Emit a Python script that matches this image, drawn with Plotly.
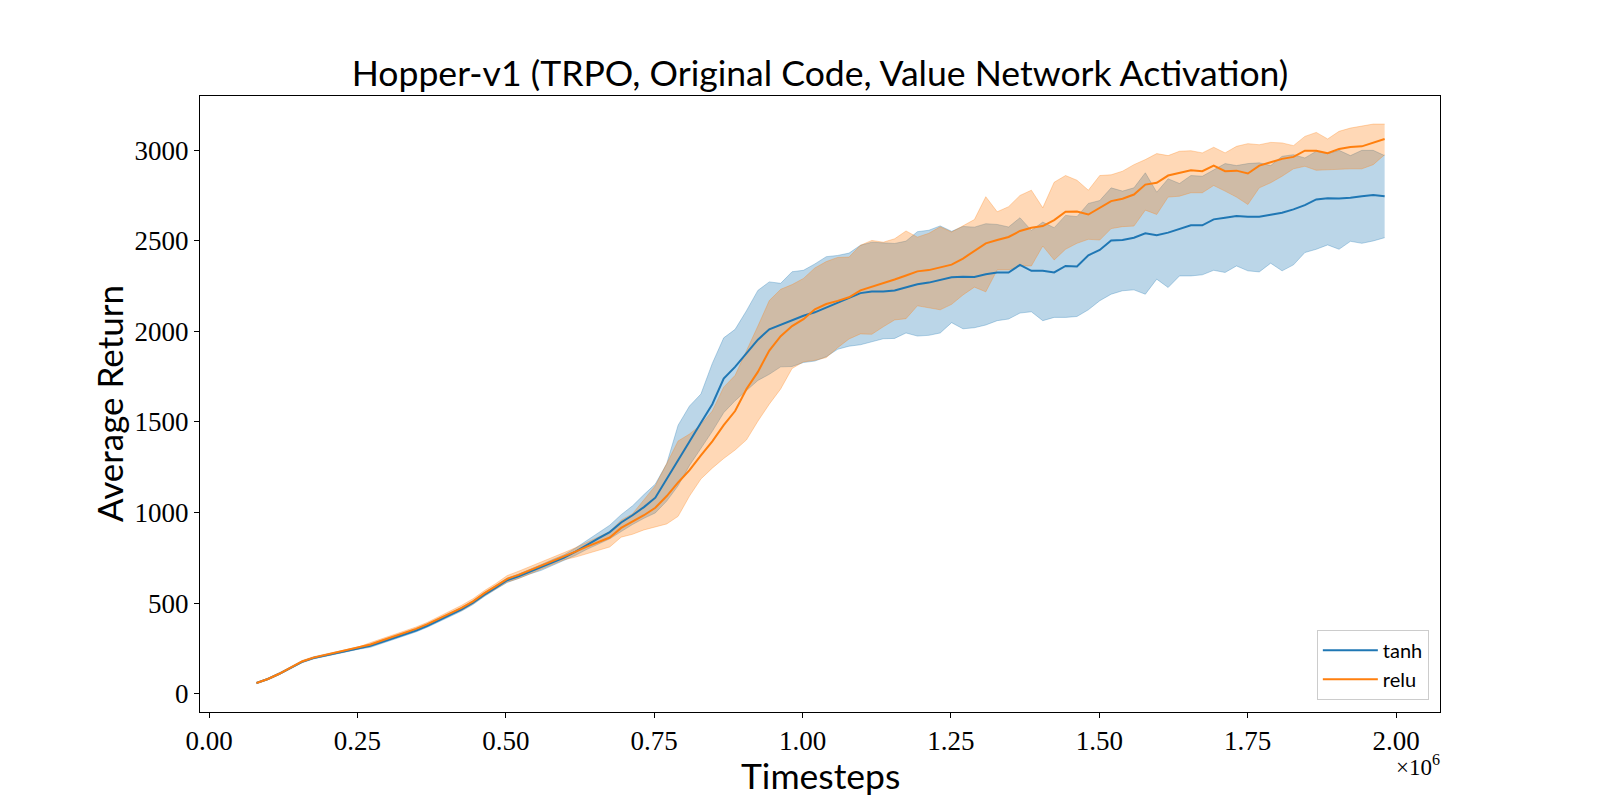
import plotly.graph_objects as go

# Hopper-v1 TRPO runs: mean curve and shaded band per value-network activation
timesteps = [
    80000, 99200, 118400, 137600, 156800, 176000, 195200, 214400, 233600, 252800,
    272000, 291200, 310400, 329600, 348800, 368000, 387200, 406400, 425600, 444800,
    464000, 483200, 502400, 521600, 540800, 560000, 579200, 598400, 617600, 636800,
    656000, 675200, 694400, 713600, 732800, 752000, 771200, 790400, 809600, 828800,
    848000, 867200, 886400, 905600, 924800, 944000, 963200, 982400, 1001600, 1020800,
    1040000, 1059200, 1078400, 1097600, 1116800, 1136000, 1155200, 1174400, 1193600, 1212800,
    1232000, 1251200, 1270400, 1289600, 1308800, 1328000, 1347200, 1366400, 1385600, 1404800,
    1424000, 1443200, 1462400, 1481600, 1500800, 1520000, 1539200, 1558400, 1577600, 1596800,
    1616000, 1635200, 1654400, 1673600, 1692800, 1712000, 1731200, 1750400, 1769600, 1788800,
    1808000, 1827200, 1846400, 1865600, 1884800, 1904000, 1923200, 1942400, 1961600, 1980800,
]

tanh_mean = [
    59, 81, 110, 143, 176, 197, 211, 225, 240, 251,
    264, 285, 305, 325, 349, 375, 405, 435, 466, 502,
    547, 586, 626, 648, 673, 697, 725, 751, 784, 822,
    857, 892, 945, 985, 1030, 1082, 1187, 1288, 1395, 1495,
    1598, 1739, 1804, 1876, 1954, 2011, 2037, 2063, 2086, 2105,
    2132, 2160, 2183, 2211, 2220, 2220, 2226, 2245, 2260, 2269,
    2284, 2299, 2301, 2300, 2315, 2325, 2325, 2367, 2334, 2334,
    2325, 2361, 2358, 2420, 2449, 2502, 2504, 2517, 2541, 2530,
    2545, 2567, 2585, 2585, 2618, 2627, 2636, 2633, 2633, 2644,
    2655, 2673, 2697, 2728, 2735, 2733, 2737, 2746, 2752, 2746,
]
tanh_upper = [
    62, 85, 115, 148, 181, 202, 216, 230, 245, 256,
    272, 293, 313, 333, 357, 383, 413, 443, 476, 512,
    557, 596, 638, 660, 685, 713, 741, 767, 804, 847,
    887, 930, 988, 1037, 1099, 1157, 1270, 1482, 1588, 1654,
    1823, 1964, 2011, 2114, 2226, 2273, 2265, 2329, 2337, 2372,
    2412, 2419, 2432, 2475, 2492, 2487, 2485, 2498, 2550, 2558,
    2582, 2552, 2579, 2575, 2594, 2590, 2576, 2627, 2557, 2603,
    2572, 2640, 2633, 2706, 2722, 2792, 2774, 2792, 2875, 2768,
    2842, 2816, 2860, 2856, 2893, 2926, 2915, 2926, 2930, 2915,
    2966, 2975, 2957, 2994, 2981, 2999, 2970, 2999, 2999, 2970,
]
tanh_lower = [
    56, 77, 105, 138, 171, 192, 206, 220, 235, 246,
    256, 277, 297, 317, 341, 367, 397, 427, 456, 492,
    537, 576, 614, 636, 661, 681, 709, 735, 764, 797,
    827, 855, 895, 934, 968, 998, 1063, 1148, 1260, 1354,
    1448, 1551, 1617, 1673, 1729, 1763, 1804, 1806, 1828, 1836,
    1860, 1901, 1918, 1926, 1944, 1959, 1961, 1991, 1974, 1978,
    1991, 2048, 2014, 2020, 2035, 2059, 2068, 2101, 2108, 2059,
    2077, 2077, 2082, 2119, 2169, 2205, 2224, 2229, 2205, 2288,
    2242, 2306, 2306, 2312, 2337, 2325, 2361, 2334, 2328, 2376,
    2334, 2367, 2435, 2453, 2477, 2453, 2497, 2486, 2499, 2517,
]

relu_mean = [
    59, 81, 110, 143, 178, 199, 213, 228, 243, 254,
    272, 294, 314, 335, 358, 384, 415, 447, 474, 510,
    555, 594, 634, 656, 681, 705, 733, 759, 784, 812,
    837, 862, 915, 950, 985, 1026, 1091, 1166, 1234, 1315,
    1393, 1482, 1560, 1682, 1776, 1894, 1973, 2029, 2067, 2122,
    2151, 2168, 2188, 2226, 2246, 2263, 2286, 2308, 2331, 2338,
    2353, 2368, 2402, 2443, 2486, 2504, 2521, 2554, 2572, 2581,
    2614, 2660, 2662, 2645, 2682, 2719, 2732, 2755, 2810, 2820,
    2860, 2875, 2889, 2884, 2915, 2884, 2887, 2871, 2915, 2933,
    2952, 2963, 2997, 2997, 2983, 3007, 3018, 3021, 3040, 3062,
]
relu_upper = [
    62, 85, 115, 148, 183, 204, 218, 233, 248, 259,
    282, 304, 324, 345, 368, 394, 425, 457, 488, 524,
    569, 608, 652, 676, 701, 725, 753, 779, 806, 837,
    865, 894, 958, 993, 1073, 1148, 1270, 1395, 1433, 1485,
    1560, 1692, 1757, 1898, 2029, 2170, 2232, 2258, 2292, 2350,
    2385, 2408, 2410, 2475, 2502, 2492, 2511, 2554, 2520, 2541,
    2577, 2548, 2582, 2617, 2743, 2660, 2688, 2750, 2779, 2682,
    2823, 2860, 2834, 2779, 2860, 2864, 2884, 2920, 2948, 2981,
    2970, 2994, 2997, 2985, 3016, 2985, 3021, 3036, 3030, 3043,
    3040, 3025, 3076, 3098, 3062, 3104, 3122, 3135, 3144, 3144,
]
relu_lower = [
    56, 77, 105, 138, 173, 194, 208, 223, 238, 249,
    262, 284, 304, 325, 348, 374, 405, 437, 460, 496,
    541, 580, 616, 636, 661, 685, 713, 739, 754, 774,
    792, 810, 864, 880, 904, 922, 937, 979, 1091, 1185,
    1245, 1298, 1345, 1401, 1504, 1598, 1682, 1795, 1832, 1840,
    1855, 1910, 1958, 1986, 1984, 2025, 2063, 2070, 2141, 2130,
    2119, 2149, 2201, 2244, 2218, 2339, 2339, 2361, 2361, 2471,
    2394, 2453, 2486, 2508, 2504, 2567, 2578, 2581, 2669, 2645,
    2741, 2746, 2765, 2765, 2805, 2774, 2741, 2700, 2792, 2820,
    2856, 2897, 2911, 2889, 2893, 2897, 2897, 2897, 2920, 2975,
]

x_tick_vals = [0, 250000, 500000, 750000, 1000000, 1250000, 1500000, 1750000, 2000000]
x_tick_text = ["0.00", "0.25", "0.50", "0.75", "1.00", "1.25", "1.50", "1.75", "2.00"]
y_tick_vals = [0, 500, 1000, 1500, 2000, 2500, 3000]

runs = [
    ("tanh", tanh_mean, tanh_lower, tanh_upper, "#1f77b4", "rgba(31,119,180,0.3)"),
    ("relu", relu_mean, relu_lower, relu_upper, "#ff7f0e", "rgba(255,127,14,0.3)"),
]

SANS = "Lato, 'DejaVu Sans', sans-serif"
SERIF = "'Liberation Serif', 'DejaVu Serif', serif"

fig = go.Figure()

# shaded bands first
for name, mean, lower, upper, color, fill in runs:
    fig.add_trace(go.Scatter(
        x=timesteps, y=lower, mode="lines",
        line=dict(width=1, color=fill),
        showlegend=False, hoverinfo="skip",
    ))
    fig.add_trace(go.Scatter(
        x=timesteps, y=upper, mode="lines",
        line=dict(width=1, color=fill),
        fill="tonexty", fillcolor=fill,
        showlegend=False, hoverinfo="skip",
    ))

# mean curves on top
for name, mean, lower, upper, color, fill in runs:
    fig.add_trace(go.Scatter(
        x=timesteps, y=mean, mode="lines", name=name,
        line=dict(width=2, color=color),
    ))

axis_style = dict(
    showgrid=False, zeroline=False,
    showline=True, linecolor="black", linewidth=1, mirror=True,
    ticks="outside", ticklen=5, tickwidth=1, tickcolor="black",
    tickfont=dict(family=SERIF, size=27, color="black"),
)

# axes box at the usual matplotlib spot: 200..1440 wide, 96..712 high
fig.update_layout(
    width=1600, height=800,
    margin=dict(l=200, r=160, t=96, b=88),
    paper_bgcolor="white", plot_bgcolor="white",
    title=dict(
        text="Hopper-v1 (TRPO, Original Code, Value Network Activation)",
        font=dict(family=SANS, size=35.6, color="black"),
        x=0.5, xref="paper", xanchor="center",
        y=1 - 74 / 800, yref="container", yanchor="middle",
    ),
    xaxis=dict(range=[-15200, 2074100], tickvals=x_tick_vals, ticktext=x_tick_text, **axis_style),
    yaxis=dict(range=[-101, 3299], tickvals=y_tick_vals, **axis_style),
    legend=dict(
        x=0.991, y=0.02, xanchor="right", yanchor="bottom",
        traceorder="normal", itemwidth=55,
        bgcolor="rgba(255,255,255,0.8)", bordercolor="#cccccc", borderwidth=1,
        font=dict(family=SANS, size=20, color="black"),
    ),
    showlegend=True,
)

fig.add_annotation(
    text="Timesteps", xref="paper", yref="paper", x=0.5, y=(712 - 775) / 616,
    xanchor="center", yanchor="middle", showarrow=False, borderpad=0,
    font=dict(family=SANS, size=35.5, color="black"),
)
fig.add_annotation(
    text="Average Return", xref="paper", yref="paper", x=(109 - 200) / 1240, y=0.5,
    xanchor="center", yanchor="middle", textangle=-90, showarrow=False,
    font=dict(family=SANS, size=35, color="black"),
)
fig.add_annotation(
    text="×10<sup>6</sup>", xref="paper", yref="paper", x=(1418 - 200) / 1240, y=(712 - 765) / 616,
    xanchor="center", yanchor="middle", showarrow=False,
    font=dict(family=SERIF, size=23, color="black"),
)

# drop the default page margin so the 1600x800 figure fills the window exactly
fig.write_html(
    "out.html",
    config={"displayModeBar": False},
    post_script="document.body.style.margin='0';document.documentElement.style.overflow='hidden';",
)
